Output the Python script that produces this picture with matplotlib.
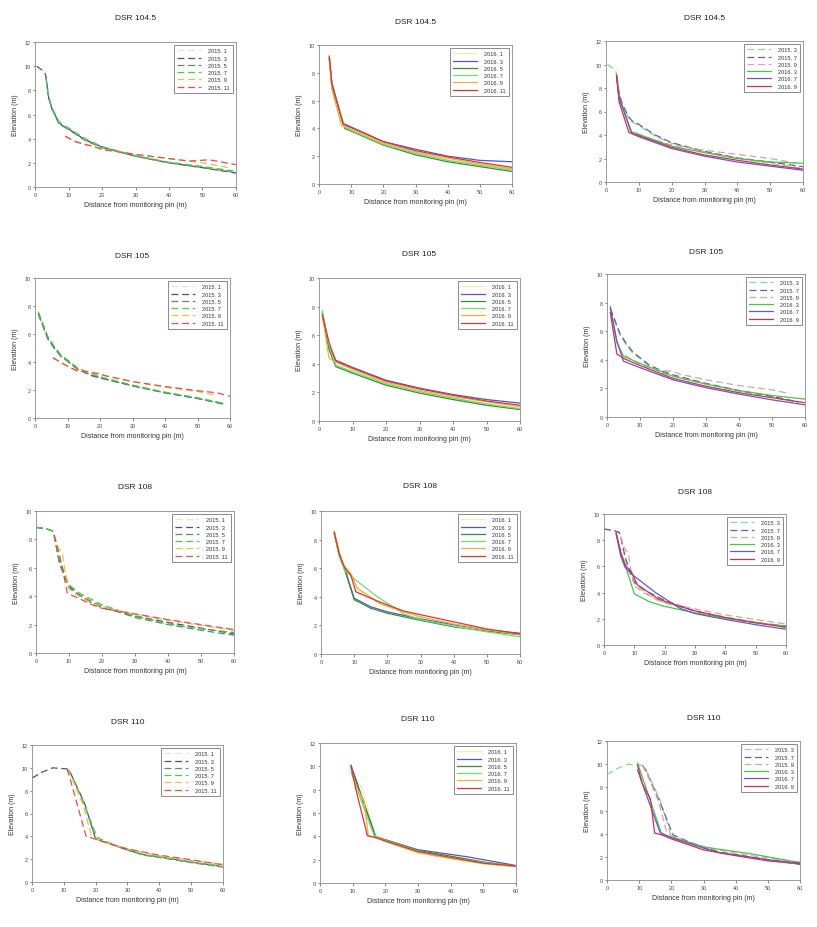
import matplotlib.pyplot as plt

plt.rcParams['font.family'] = ['Liberation Sans', 'DejaVu Sans']

W, H = 817, 928

SITES = ['DSR 104.5', 'DSR 105', 'DSR 108', 'DSR 110']
XTICKS = [0, 10, 20, 30, 40, 50, 60]
# y-axis top per panel (row = site, col = 2015 / 2016 / comparison)
YMAX = [[12, 10, 12], [10, 10, 10], [10, 10, 10], [12, 12, 12]]

# ── survey profiles (distance m, elevation m) ───────────────────────────────
dsr1045_2015 = {
    '2015. 1': ([3.2, 4, 5, 7, 8, 10, 15, 20, 30, 40, 50, 60],
                [9.1, 7.6, 6.5, 5.4, 5.1, 4.8, 3.9, 3.3, 2.6, 2.05, 1.65, 1.25]),
    '2015. 3': ([0.5, 2, 3, 3.3, 4, 5, 7, 8, 10, 15, 20, 30, 40, 50, 60],
                [10.0, 9.7, 9.4, 9.1, 7.5, 6.5, 5.4, 5.1, 4.8, 3.9, 3.3, 2.55, 2.0, 1.6, 1.15]),
    '2015. 5': ([3.3, 4, 5, 7, 8, 10, 15, 20, 30, 40, 50, 60],
                [9.1, 7.4, 6.5, 5.3, 5.1, 4.75, 3.85, 3.25, 2.55, 2.0, 1.6, 1.2]),
    '2015. 7': ([3.3, 4, 5, 7, 8, 10, 15, 20, 30, 40, 50, 60],
                [9.0, 7.6, 6.6, 5.5, 5.2, 4.9, 4.0, 3.35, 2.6, 2.05, 1.7, 1.3]),
    '2015. 9': ([9, 12, 15, 20, 30, 40, 50, 58],
                [4.2, 3.8, 3.55, 3.15, 2.7, 2.35, 2.0, 1.6]),
    '2015. 11': ([9, 12, 15, 17, 20, 30, 40, 46, 52, 60],
                 [4.2, 3.75, 3.5, 3.4, 3.1, 2.7, 2.35, 2.15, 2.25, 1.85]),
}
dsr1045_2016 = {
    '2016. 1': ([3.2, 4, 7.5, 10, 20, 30, 40, 50, 60],
                [9.1, 7.2, 4.2, 3.9, 2.9, 2.25, 1.75, 1.35, 1.05]),
    '2016. 3': ([3.2, 4, 7.5, 10, 20, 30, 40, 50, 60],
                [9.1, 7.3, 4.3, 4.05, 3.05, 2.5, 2.0, 1.7, 1.6]),
    '2016. 5': ([3.2, 4, 8, 10, 20, 30, 40, 50, 60],
                [9.0, 7.0, 4.0, 3.8, 2.8, 2.1, 1.6, 1.25, 0.9]),
    '2016. 7': ([3.2, 4, 8, 10, 20, 30, 40, 50, 60],
                [9.0, 7.1, 4.1, 3.85, 2.85, 2.2, 1.7, 1.35, 1.0]),
    '2016. 9': ([3.2, 4, 7, 10, 20, 30, 40, 50, 60],
                [9.1, 6.8, 4.2, 3.95, 2.95, 2.3, 1.85, 1.45, 1.1]),
    '2016. 11': ([3.2, 4, 7.5, 10, 20, 30, 40, 50, 60],
                 [9.2, 7.2, 4.35, 4.1, 3.05, 2.4, 1.95, 1.55, 1.2]),
}

dsr105_2015 = {
    '2015. 1': ([1, 2, 4, 6, 8, 10, 13, 17, 20, 30, 40, 50, 58],
                [7.4, 6.9, 5.7, 5.0, 4.45, 4.1, 3.5, 3.1, 2.9, 2.3, 1.8, 1.4, 1.05]),
    '2015. 3': ([1, 2, 4, 6, 8, 10, 13, 17, 20, 22, 30, 40, 50, 58],
                [7.5, 6.9, 5.7, 5.0, 4.4, 4.1, 3.5, 3.05, 2.85, 2.75, 2.3, 1.8, 1.4, 1.0]),
    '2015. 5': ([1, 2, 4, 6, 8, 10, 13, 17, 20, 22, 30, 40, 50, 58],
                [7.4, 6.8, 5.6, 4.95, 4.4, 4.05, 3.5, 3.1, 2.9, 2.75, 2.3, 1.8, 1.4, 1.0]),
    '2015. 7': ([1, 2, 4, 6, 8, 10, 13, 17, 20, 30, 40, 50, 58],
                [7.6, 7.0, 5.8, 5.1, 4.5, 4.15, 3.6, 3.2, 2.95, 2.35, 1.85, 1.45, 1.05]),
    '2015. 9': ([5.5, 10, 13, 17, 20, 22, 30, 40, 50, 55],
                [4.3, 3.7, 3.4, 3.25, 3.2, 3.0, 2.6, 2.2, 1.9, 1.65]),
    '2015. 11': ([5.5, 10, 13, 17, 20, 30, 40, 50, 56, 60],
                 [4.3, 3.7, 3.35, 3.3, 3.1, 2.6, 2.25, 1.95, 1.8, 1.55]),
}
dsr105_2016 = {
    '2016. 1': ([1, 3, 5, 10, 20, 30, 40, 50, 60],
                [7.5, 5.0, 3.9, 3.4, 2.55, 2.0, 1.55, 1.2, 0.9]),
    '2016. 3': ([1, 3, 5, 10, 20, 30, 40, 50, 60],
                [7.6, 5.2, 4.25, 3.75, 2.85, 2.3, 1.85, 1.5, 1.25]),
    '2016. 5': ([1, 3, 5, 10, 20, 30, 40, 50, 60],
                [7.5, 5.0, 3.8, 3.35, 2.5, 1.95, 1.5, 1.1, 0.8]),
    '2016. 7': ([1, 3, 5, 10, 20, 30, 40, 50, 60],
                [7.7, 5.3, 3.9, 3.45, 2.6, 2.05, 1.6, 1.2, 0.85]),
    '2016. 9': ([1, 3, 5, 10, 20, 30, 40, 50, 60],
                [7.3, 4.4, 4.1, 3.6, 2.7, 2.15, 1.7, 1.35, 1.0]),
    '2016. 11': ([1, 3, 5, 10, 20, 30, 40, 50, 60],
                 [7.4, 5.5, 4.2, 3.7, 2.8, 2.25, 1.8, 1.4, 1.1]),
}

dsr108_2015 = {
    '2015. 1': ([0, 3, 5, 5.5, 7, 8.5, 10, 13, 17, 20, 30, 40, 50, 60],
                [8.85, 8.75, 8.6, 8.3, 6.6, 5.6, 4.8, 4.2, 3.6, 3.3, 2.65, 2.15, 1.75, 1.4]),
    '2015. 3': ([0, 3, 5, 5.5, 7, 8.5, 10, 13, 17, 20, 30, 40, 50, 60],
                [8.85, 8.75, 8.6, 8.3, 6.5, 5.5, 4.7, 4.1, 3.5, 3.2, 2.6, 2.15, 1.75, 1.35]),
    '2015. 5': ([0, 3, 5, 5.5, 7, 8.5, 10, 13, 17, 20, 30, 40, 50, 60],
                [8.85, 8.75, 8.6, 8.3, 6.4, 5.4, 4.6, 4.1, 3.6, 3.3, 2.5, 2.0, 1.6, 1.25]),
    '2015. 7': ([0, 3, 5, 5.5, 7, 8.5, 10, 13, 17, 20, 30, 40, 50, 60],
                [8.85, 8.75, 8.6, 8.3, 6.7, 5.7, 4.8, 4.25, 3.75, 3.4, 2.6, 2.05, 1.7, 1.45]),
    '2015. 9': ([5.5, 6.5, 8, 9, 10, 13, 17, 20, 30, 40, 50, 60],
                [8.3, 7.5, 7.0, 5.5, 4.5, 4.0, 3.5, 3.25, 2.75, 2.3, 1.95, 1.6]),
    '2015. 11': ([5.5, 7, 8, 9.5, 13, 17, 20, 30, 40, 50, 60],
                 [8.3, 7.0, 6.0, 4.2, 3.85, 3.4, 3.15, 2.75, 2.35, 2.0, 1.65]),
}
dsr108_2016 = {
    '2016. 1': ([4, 5.5, 7, 9, 11, 17, 25, 30, 40, 50, 60],
                [8.5, 7.0, 6.2, 5.8, 4.5, 3.6, 2.9, 2.6, 2.1, 1.7, 1.35]),
    '2016. 3': ([4, 5.5, 7, 10, 15, 20, 30, 40, 50, 60],
                [8.5, 7.0, 6.1, 3.9, 3.3, 2.95, 2.45, 2.05, 1.7, 1.45]),
    '2016. 5': ([4, 5.5, 7, 10, 15, 20, 30, 40, 50, 60],
                [8.4, 6.9, 6.0, 3.8, 3.2, 2.85, 2.35, 1.9, 1.6, 1.35]),
    '2016. 7': ([4, 5.5, 7, 10, 17, 25, 30, 40, 50, 60],
                [8.5, 6.8, 5.9, 5.25, 4.0, 2.8, 2.4, 1.95, 1.55, 1.2]),
    '2016. 9': ([4, 5.5, 7, 9, 11, 18, 25, 30, 40, 50, 60],
                [8.6, 7.1, 6.1, 5.6, 4.6, 3.5, 2.95, 2.6, 2.1, 1.7, 1.35]),
    '2016. 11': ([4, 5.5, 7, 9, 10.5, 17, 25, 35, 50, 60],
                 [8.5, 7.0, 6.1, 5.5, 4.35, 3.7, 3.0, 2.5, 1.75, 1.4]),
}

dsr110_2015 = {
    '2015. 1': ([11, 12, 16.5, 20, 25, 30, 35, 40, 50, 60],
                [9.9, 9.6, 6.9, 3.8, 3.3, 2.85, 2.45, 2.2, 1.8, 1.4]),
    '2015. 3': ([0, 3, 6.5, 11, 12, 16.5, 20, 25, 30, 35, 40, 50, 60],
                [9.1, 9.6, 10.0, 9.9, 9.6, 6.9, 3.75, 3.3, 2.8, 2.4, 2.2, 1.75, 1.35]),
    '2015. 5': ([11, 12, 16.5, 20, 25, 30, 35, 40, 50, 60],
                [9.9, 9.6, 6.8, 3.8, 3.3, 2.8, 2.35, 2.15, 1.7, 1.3]),
    '2015. 7': ([11, 12, 16.5, 20.5, 25, 30, 35, 40, 50, 60],
                [9.9, 9.5, 6.7, 3.9, 3.35, 2.85, 2.4, 2.2, 1.75, 1.35]),
    '2015. 9': ([11, 13, 16, 18.5, 20, 25, 30, 40, 50, 60],
                [9.9, 8.8, 6.8, 4.2, 3.8, 3.3, 2.9, 2.3, 1.9, 1.55]),
    '2015. 11': ([11, 12, 17, 20, 25, 30, 40, 50, 60],
                 [9.9, 9.0, 4.0, 3.75, 3.3, 2.9, 2.35, 1.95, 1.5]),
}
dsr110_2016 = {
    '2016. 1': ([9.5, 11, 13, 16, 17, 20, 30, 40, 50, 60],
                [10.0, 9.0, 8.0, 5.0, 4.0, 3.7, 2.6, 2.1, 1.7, 1.4]),
    '2016. 3': ([9.5, 17, 20, 30, 40, 45, 50, 60],
                [10.1, 3.95, 3.7, 2.85, 2.45, 2.25, 2.0, 1.5]),
    '2016. 5': ([9.5, 17, 20, 30, 40, 50, 60],
                [9.9, 4.0, 3.7, 2.8, 2.3, 1.8, 1.45]),
    '2016. 7': ([9.5, 11, 16.5, 20, 30, 35, 40, 50, 60],
                [9.5, 8.3, 4.1, 3.65, 2.75, 2.35, 2.15, 1.75, 1.45]),
    '2016. 9': ([9.5, 11, 13.5, 14.8, 17, 20, 30, 40, 50, 60],
                [9.9, 8.3, 7.0, 4.05, 3.9, 3.55, 2.6, 2.1, 1.65, 1.4]),
    '2016. 11': ([9.5, 11, 14.5, 17, 20, 30, 40, 50, 60],
                 [10.0, 8.0, 4.05, 3.9, 3.6, 2.7, 2.2, 1.7, 1.45]),
}

DATA = [(dsr1045_2015, dsr1045_2016), (dsr105_2015, dsr105_2016),
        (dsr108_2015, dsr108_2016), (dsr110_2015, dsr110_2016)]

KEYS_2015 = ['2015. 1', '2015. 3', '2015. 5', '2015. 7', '2015. 9', '2015. 11']
KEYS_2016 = ['2016. 1', '2016. 3', '2016. 5', '2016. 7', '2016. 9', '2016. 11']
KEYS_CMP = ['2015. 3', '2015. 7', '2015. 9', '2016. 3', '2016. 7', '2016. 9']

# ── styles ───────────────────────────────────────────────────────────────────
COL_2015 = ['#e6e6cf', '#4b4f7c', '#5d8a6c', '#48cc48', '#f0c040', '#e05050']
COL_2016 = ['#eeeeb4', '#5555c4', '#378c37', '#6ede6e', '#f0b040', '#dd3535']
COL_CMP = ['#8ad88a', '#6a5aa8', '#e0a0a0', '#44c844', '#6a55cc', '#cc3355']
DASH = (0, (5.5, 3))

# axes boxes in pixels: left, top, right, bottom
BOXES = [
    [(35, 43, 236, 188), (319, 46, 512, 185), (606, 42, 803, 183)],
    [(35, 279, 230, 419), (319, 279, 520, 422), (607, 275, 805, 418)],
    [(36, 512, 234, 654), (321, 512, 520, 655), (604, 515, 786, 646)],
    [(32, 746, 223, 883), (320, 744, 516, 884), (607, 742, 800, 881)],
]
TITLE_Y = [[19, 23, 18], [256, 254, 252], [488, 487, 493], [722, 720, 719]]

fig = plt.figure(figsize=(W / 100, H / 100), dpi=100)


def draw_panel(ax, series, keys, colors, styles, ymax):
    for k, c, ls in zip(keys, colors, styles):
        x, y = series[k]
        ax.plot(x, y, color=c, linestyle=ls, linewidth=0.9, label=k)
    ax.set_xlim(0, 60)
    ax.set_ylim(0, ymax)
    ax.set_xticks(XTICKS)
    ax.set_yticks(list(range(0, ymax + 1, 2)))
    ax.set_xlabel('Distance from monitoring pin (m)', fontsize=5.0, labelpad=3, color='#333333')
    ax.set_ylabel('Elevation (m)', fontsize=5.0, labelpad=4, color='#333333')
    ax.tick_params(labelsize=3.9, length=1.8, width=0.5, pad=1.5,
                   colors='#555555', labelcolor='#444444')
    for sp in ax.spines.values():
        sp.set_linewidth(0.6)
        sp.set_color('#8c8c8c')
    leg = ax.legend(loc='upper right', fontsize=4.1, handlelength=4.2,
                    labelspacing=0.4, borderpad=0.6, handletextpad=1.2,
                    fancybox=False, framealpha=1, edgecolor='#777777',
                    borderaxespad=0.5)
    leg.get_frame().set_linewidth(0.6)
    for t in leg.get_texts():
        t.set_color('#333333')


for r in range(4):
    d15, d16 = DATA[r]
    both = {**d15, **d16}
    for c in range(3):
        l, t, rr, b = BOXES[r][c]
        ax = fig.add_axes([l / W, 1 - b / H, (rr - l) / W, (b - t) / H])
        if c == 0:
            draw_panel(ax, d15, KEYS_2015, COL_2015, [DASH] * 6, YMAX[r][c])
        elif c == 1:
            draw_panel(ax, d16, KEYS_2016, COL_2016, ['-'] * 6, YMAX[r][c])
        else:
            draw_panel(ax, both, KEYS_CMP, COL_CMP, [DASH] * 3 + ['-'] * 3, YMAX[r][c])
        fig.text((l + rr) / 2 / W, 1 - TITLE_Y[r][c] / H, SITES[r],
                 ha='center', va='center', fontsize=6.0, color='#222222')

fig.savefig('out.png', dpi=100)
